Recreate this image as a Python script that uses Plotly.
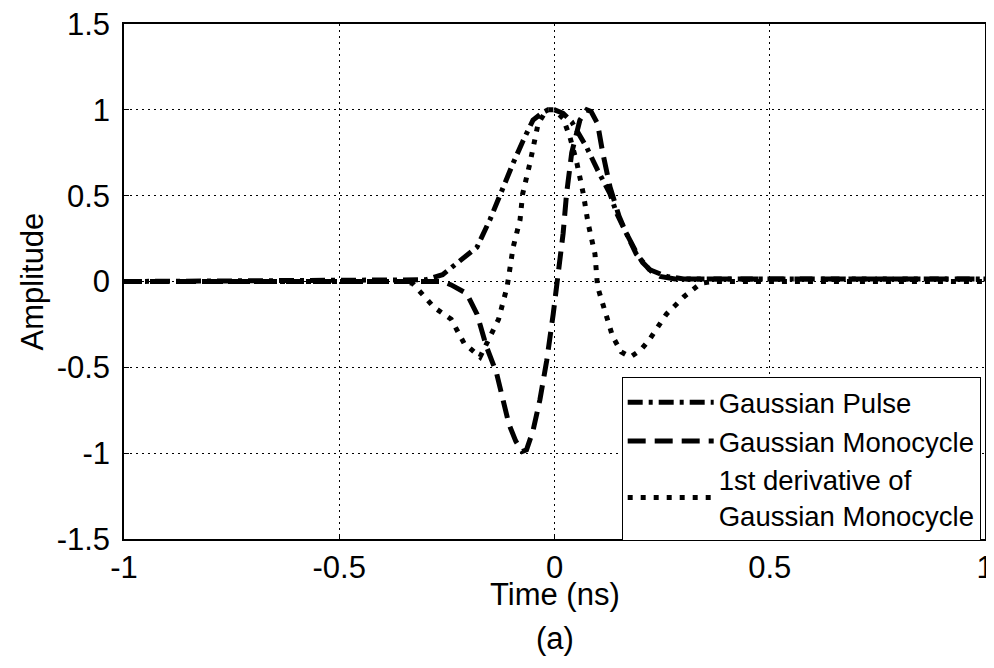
import plotly.graph_objects as go

# ---- data ----
pulse_x = [-1.0, -0.30, -0.26, -0.22, -0.18, -0.15, -0.12, -0.096, -0.073, -0.05, -0.03, -0.015,
           0.0, 0.02, 0.04, 0.052, 0.075, 0.10, 0.129, 0.144, 0.167, 0.19, 0.22, 0.26, 0.30, 1.0]
pulse_y = [0.0, 0.01, 0.04, 0.12, 0.20, 0.36, 0.55, 0.69, 0.82, 0.94, 0.98, 1.0,
           1.0, 0.98, 0.93, 0.88, 0.78, 0.65, 0.51, 0.40, 0.28, 0.16, 0.07, 0.03, 0.015, 0.015]

mono_x = [-1.0, -0.26, -0.24, -0.204, -0.18, -0.158, -0.135, -0.12, -0.106, -0.09, -0.075, -0.065,
          -0.05, -0.034, -0.018, -0.003, 0.008, 0.02, 0.028, 0.04, 0.059, 0.075, 0.085, 0.10,
          0.112, 0.129, 0.15, 0.167, 0.19, 0.205, 0.225, 0.245, 0.28, 1.0]
mono_y = [0.0, 0.0, -0.02, -0.07, -0.19, -0.38, -0.53, -0.69, -0.83, -0.93, -0.99, -0.98,
          -0.87, -0.69, -0.46, -0.19, 0.01, 0.28, 0.51, 0.75, 0.94, 1.0, 0.99, 0.92,
          0.75, 0.55, 0.38, 0.28, 0.17, 0.11, 0.06, 0.03, 0.015, 0.015]

deriv_x = [-1.0, -0.35, -0.33, -0.28, -0.24, -0.21, -0.173, -0.15, -0.13, -0.11, -0.096, -0.08,
           -0.074, -0.057, -0.05, -0.038, -0.018, 0.0, 0.02, 0.036, 0.052, 0.067, 0.078, 0.094,
           0.10, 0.12, 0.135, 0.155, 0.176, 0.20, 0.22, 0.26, 0.30, 0.34, 0.37, 1.0]
deriv_y = [0.0, 0.0, -0.01, -0.15, -0.22, -0.36, -0.44, -0.32, -0.22, -0.03, 0.20, 0.36,
           0.51, 0.69, 0.78, 0.92, 1.0, 1.0, 0.95, 0.84, 0.69, 0.51, 0.34, 0.16,
           -0.03, -0.19, -0.32, -0.41, -0.44, -0.40, -0.34, -0.19, -0.09, -0.01, 0.0, 0.0]

series_names = ["Gaussian Pulse", "Gaussian Monocycle", "1st derivative of<br>Gaussian Monocycle"]
x_ticks = [-1, -0.5, 0, 0.5, 1]
x_tick_labels = ["-1", "-0.5", "0", "0.5", "1"]
y_ticks = [-1.5, -1, -0.5, 0, 0.5, 1, 1.5]
y_tick_labels = ["-1.5", "-1", "-0.5", "0", "0.5", "1", "1.5"]

FONT = "Liberation Sans, Arial, sans-serif"

fig = go.Figure()
fig.add_trace(go.Scatter(x=pulse_x, y=pulse_y, mode="lines", name=series_names[0],
                         line=dict(color="black", width=5, dash="15px,6px,4px,6px")))
fig.add_trace(go.Scatter(x=mono_x, y=mono_y, mode="lines", name=series_names[1],
                         line=dict(color="black", width=5, dash="18px,9px")))
fig.add_trace(go.Scatter(x=deriv_x, y=deriv_y, mode="lines", name=series_names[2],
                         line=dict(color="black", width=5, dash="5px,8px")))

axis_common = dict(
    showline=True, linecolor="black", linewidth=1.5, mirror=True,
    showgrid=True, gridcolor="black", gridwidth=1, griddash="2px,4px",
    ticks="inside", ticklen=5, tickcolor="black", zeroline=False,
    automargin=False, ticklabeloverflow="allow",
    tickfont=dict(family=FONT, size=31, color="black"),
)

fig.update_xaxes(range=[-1, 1], tickvals=x_ticks, ticktext=x_tick_labels,
                 ticklabelstandoff=0, **axis_common)
fig.update_yaxes(range=[-1.5, 1.5], tickvals=y_ticks, ticktext=y_tick_labels,
                 ticklabelstandoff=6, **axis_common)

# the page adds an 8px body margin, so the figure is 8px smaller and shifted
fig.update_layout(
    width=986, height=660,
    margin=dict(l=116, r=9, t=16, b=129),
    paper_bgcolor="white", plot_bgcolor="white",
    font=dict(family=FONT, color="black"),
    showlegend=True,
    legend=dict(
        x=0.995, xanchor="right", y=0.315, yanchor="top",
        bgcolor="white", bordercolor="black", borderwidth=1,
        font=dict(family=FONT, size=27.5, color="black"),
        itemwidth=86, tracegroupgap=0,
    ),
    annotations=[
        dict(text="Amplitude", xref="paper", yref="paper", x=0, xshift=-92, y=0.5,
             xanchor="center", yanchor="middle", textangle=-90, showarrow=False,
             font=dict(family=FONT, size=31, color="black")),
        dict(text="Time (ns)", xref="paper", yref="paper", x=0.5, y=0, yshift=-55,
             xanchor="center", yanchor="middle", showarrow=False,
             font=dict(family=FONT, size=31, color="black")),
        dict(text="(a)", xref="paper", yref="paper", x=0.5, y=0, yshift=-99,
             xanchor="center", yanchor="middle", showarrow=False,
             font=dict(family=FONT, size=31, color="black")),
    ],
)

fig.write_html("out.html")
